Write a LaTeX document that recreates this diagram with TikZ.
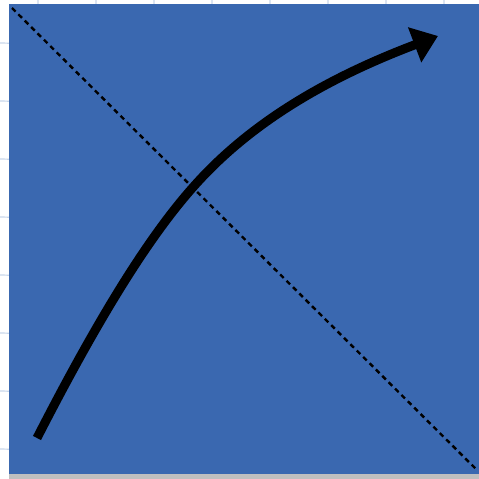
\documentclass[tikz,border=0pt]{standalone}
\usepackage{xcolor}
\usepackage{tikz}
\usetikzlibrary{arrows.meta}

\definecolor{cardblue}{RGB}{58,104,176}
\definecolor{gridblue}{RGB}{200,215,235}

\begin{document}
\begin{tikzpicture}[
  x=1pt, y=-1pt,
  card/.style={fill=cardblue, draw=none},
  shadowstrip/.style={fill=black!25, draw=none},
  gridline/.style={draw=gridblue, line width=1.2pt},
  fold/.style={dashed, dash pattern=on 5pt off 4pt, line width=2.4pt, draw=black},
  flow/.style={-{Triangle[length=25pt, width=36pt]}, line width=9pt, draw=black},
]
  \useasboundingbox (0,0) rectangle (479,479);
  \fill[white] (0,0) rectangle (479,479);
  % faint grid behind the card
  \foreach \k in {0,...,9} {
    \draw[gridline] (\k*58-20,0) -- (\k*58-10,479);
    \draw[gridline] (0,\k*58-15) -- (479,\k*58-5);
  }
  \fill[shadowstrip] (9,470) rectangle (479,479);
  \fill[card] (9,4) rectangle (479,474);

  \coordinate (c1) at (12,8);
  \coordinate (c2) at (478,471);
  \draw[fold] (c1) -- (c2);

  \coordinate (s) at (37,438);
  \coordinate (m) at (195,185);
  \coordinate (e) at (438,36);
  \draw[flow] (s) .. controls (100,315) and (150,235) .. (m)
    .. controls (255,118) and (335,75) .. (e);
\end{tikzpicture}
\end{document}
